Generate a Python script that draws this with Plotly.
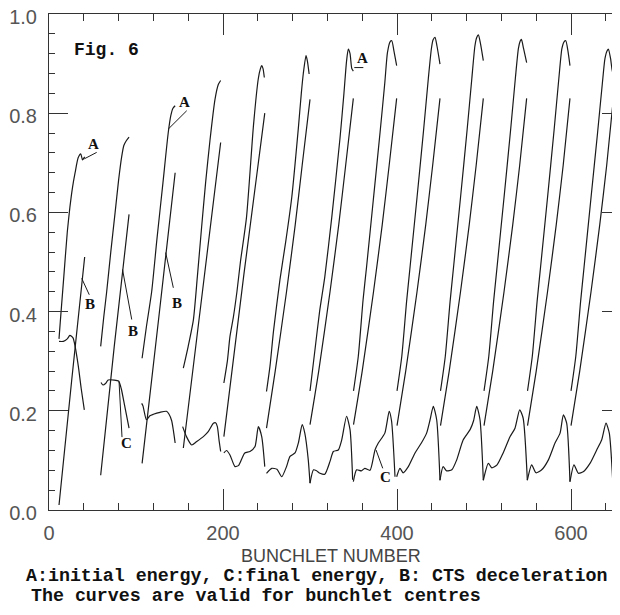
import plotly.graph_objects as go

# ---- data (bunchlet number, energy) ----
A_x = [
    [11.5, 13, 17, 21, 24, 27, 30, 33.5, 36.5, 38.5, 41],
    [59.4, 63, 66.3, 71, 76, 80, 83.5, 86, 89, 92],
    [107, 112, 118, 124, 131, 137, 140, 142.5, 145],
    [154.4, 160, 166, 170.5, 175.5, 180, 185, 190.8, 194.6, 197.3],
    [201, 205, 208, 212, 216, 220, 227, 235, 240.6, 243, 244.5, 246, 247.5],
    [250, 254, 258, 265.5, 272, 279, 286.6, 290, 292.3, 295.4, 297, 299],
    [300, 305.5, 311, 317, 325, 334.5, 339, 342, 344, 346, 348, 349.8],
    [350, 355.5, 361, 365, 372.8, 380.5, 386, 389, 392, 394, 396.5, 399.6],
    [400, 405.5, 411, 415, 423, 430.5, 436, 439.5, 441.5, 443.7, 446, 449.4],
    [450, 455.5, 461, 465, 473, 480.5, 486, 489.5, 491.5, 493.5, 496, 499.2],
    [500, 505.5, 511, 515, 523, 530.5, 536, 539.5, 541.5, 543, 545.5, 549],
    [550, 555.5, 561, 565, 573, 580.5, 586, 589.5, 592, 594, 596.5, 598.8],
    [600, 605.5, 611, 615, 623, 630.5, 636, 639, 641.5, 643, 645.5, 648.6, 656.3],
]
A_y = [
    [0.345, 0.38, 0.47, 0.56, 0.61, 0.65, 0.68, 0.71, 0.718, 0.706, 0.712],
    [0.33, 0.39, 0.44, 0.52, 0.60, 0.665, 0.712, 0.735, 0.745, 0.752],
    [0.306, 0.37, 0.44, 0.545, 0.66, 0.76, 0.795, 0.81, 0.815],
    [0.286, 0.33, 0.384, 0.47, 0.572, 0.66, 0.745, 0.828, 0.858, 0.866],
    [0.256, 0.30, 0.35, 0.39, 0.44, 0.50, 0.59, 0.775, 0.87, 0.89, 0.896, 0.89, 0.872],
    [0.239, 0.29, 0.36, 0.465, 0.54, 0.63, 0.77, 0.84, 0.88, 0.916, 0.905, 0.879],
    [0.24, 0.32, 0.40, 0.47, 0.59, 0.75, 0.84, 0.905, 0.929, 0.92, 0.89, 0.885],
    [0.24, 0.31, 0.424, 0.49, 0.626, 0.761, 0.862, 0.922, 0.944, 0.946, 0.925, 0.896],
    [0.24, 0.31, 0.42, 0.49, 0.63, 0.765, 0.87, 0.93, 0.948, 0.953, 0.935, 0.899],
    [0.24, 0.31, 0.42, 0.49, 0.63, 0.765, 0.87, 0.935, 0.952, 0.958, 0.94, 0.906],
    [0.24, 0.31, 0.42, 0.49, 0.63, 0.765, 0.87, 0.93, 0.945, 0.949, 0.93, 0.902],
    [0.24, 0.31, 0.42, 0.49, 0.63, 0.765, 0.87, 0.93, 0.944, 0.946, 0.925, 0.896],
    [0.24, 0.31, 0.42, 0.49, 0.63, 0.76, 0.86, 0.91, 0.926, 0.929, 0.91, 0.879, 0.879],
]

B_x = [
    [11.5, 26, 41],
    [59.4, 75, 92],
    [107, 126, 145],
    [154.4, 176, 197.3],
    [201, 224, 248],
    [250, 260, 273, 283, 291, 300],
    [300, 310, 323, 333, 341, 349.8],
    [350, 360, 373, 383, 391, 399.6],
    [400, 410, 423, 433, 441, 449.4],
    [450, 460, 473, 483, 491, 499.2],
    [500, 510, 523, 533, 541, 549],
    [550, 560, 573, 583, 591, 598.8],
    [600, 610, 623, 633, 641, 648.6],
]
B_y = [
    [0.01, 0.26, 0.51],
    [0.07, 0.33, 0.596],
    [0.094, 0.385, 0.68],
    [0.125, 0.435, 0.741],
    [0.148, 0.475, 0.80],
    [0.165, 0.28, 0.44, 0.575, 0.695, 0.828],
    [0.172, 0.28, 0.44, 0.575, 0.695, 0.83],
    [0.172, 0.28, 0.44, 0.575, 0.695, 0.83],
    [0.170, 0.28, 0.44, 0.575, 0.695, 0.83],
    [0.170, 0.28, 0.44, 0.575, 0.695, 0.83],
    [0.170, 0.28, 0.44, 0.575, 0.695, 0.83],
    [0.170, 0.28, 0.44, 0.575, 0.695, 0.83],
    [0.170, 0.28, 0.44, 0.575, 0.695, 0.828],
]

C_x = [
    [11.5, 16.5, 21, 24, 27.6, 30, 33.7, 37, 40.6],
    [59.8, 62, 65, 68, 75, 80, 83, 87, 92],
    [106.5, 108, 112, 116, 120, 127.6, 135, 138, 141, 143, 145],
    [153.6, 158, 164, 169.8, 177.4, 183, 188.9, 191.5, 193.5, 195.5, 197.3],
    [201, 204, 208, 213.8, 218, 222, 225, 231, 236.8, 240.6, 244.5, 248],
    [250, 256, 262, 267.5, 273, 277, 282.8, 286.6, 291, 294, 298, 300],
    [300, 304, 307.5, 311.5, 317, 323, 326.8, 332.5, 336.4, 342, 346, 349],
    [349.8, 353.6, 359, 363, 369, 374.7, 378.5, 386, 391, 393.7, 397.7],
    [399.6, 403.4, 407, 413, 420.7, 428, 434, 438, 441.7, 445.6, 449.4],
    [449.4, 453, 457, 463, 468.6, 476, 484, 488, 491.6, 495.4, 499.2],
    [499.2, 505, 509, 515, 522, 530, 535.6, 541, 545, 549.8],
    [549.8, 554.8, 559.8, 566.3, 574, 581.6, 587.4, 591.2, 595, 598.8],
    [598.8, 603.4, 608.4, 614, 621.8, 629.5, 635.2, 640.2, 644, 648],
]
C_y = [
    [0.34, 0.34, 0.345, 0.352, 0.347, 0.33, 0.29, 0.245, 0.202],
    [0.257, 0.252, 0.255, 0.262, 0.262, 0.26, 0.245, 0.21, 0.165],
    [0.215, 0.21, 0.182, 0.19, 0.193, 0.197, 0.199, 0.193, 0.18, 0.16, 0.135],
    [0.168, 0.148, 0.131, 0.138, 0.148, 0.158, 0.175, 0.176, 0.168, 0.14, 0.118],
    [0.115, 0.12, 0.111, 0.0875, 0.09, 0.105, 0.115, 0.118, 0.128, 0.168, 0.148, 0.0875],
    [0.074, 0.084, 0.082, 0.067, 0.0875, 0.108, 0.115, 0.135, 0.172, 0.155, 0.101, 0.054],
    [0.054, 0.081, 0.079, 0.074, 0.072, 0.098, 0.118, 0.121, 0.141, 0.189, 0.162, 0.061],
    [0.057, 0.081, 0.079, 0.084, 0.08, 0.121, 0.135, 0.155, 0.199, 0.18, 0.067],
    [0.067, 0.084, 0.075, 0.0875, 0.115, 0.135, 0.155, 0.182, 0.209, 0.182, 0.06],
    [0.06, 0.0875, 0.079, 0.081, 0.101, 0.141, 0.162, 0.18, 0.209, 0.182, 0.06],
    [0.06, 0.094, 0.085, 0.091, 0.115, 0.148, 0.165, 0.202, 0.185, 0.06],
    [0.06, 0.091, 0.075, 0.081, 0.101, 0.135, 0.155, 0.192, 0.175, 0.057],
    [0.057, 0.091, 0.074, 0.077, 0.094, 0.121, 0.141, 0.175, 0.155, 0.057],
]

# curve labels: text, label position, leader line (from, to)
labels = ["A", "A", "A", "B", "B", "B", "C", "C"]
label_x = [50.9, 156.3, 359.8, 47.1, 96.0, 146.6, 88.5, 386.2]
label_y = [0.737, 0.822, 0.911, 0.416, 0.36, 0.418, 0.135, 0.067]
leader_x0 = [40.6, 137.1, 350.9, 37.6, 84.5, 134.1, 80.5, 375.9]
leader_y0 = [0.708, 0.768, 0.892, 0.467, 0.485, 0.519, 0.259, 0.121]
leader_x1 = [54.8, 158.3, 361.3, 46.3, 95.1, 142.9, 83.9, 383.6]
leader_y1 = [0.721, 0.805, 0.892, 0.434, 0.384, 0.448, 0.147, 0.084]

LINE = "#1a1a1a"
OFF = 8  # the page body adds an 8px margin; shift the figure so the plot lands where the reference has it

W, H = 620 - OFF, 615 - OFF
L, T = 49 - OFF, 14 - OFF
PW, PH = 571, 496
B = H - T - PH


def px_x(px):
    return (px - OFF - L) / PW


def px_y(py):
    return (T + PH - (py - OFF)) / PH


def joined(xs, ys):
    X, Y = [], []
    for sx, sy in zip(xs, ys):
        X += list(sx) + [None]
        Y += list(sy) + [None]
    return X, Y


fig = go.Figure()
for name, xs, ys in [("A", A_x, A_y), ("B", B_x, B_y), ("C", C_x, C_y)]:
    X, Y = joined(xs, ys)
    fig.add_trace(go.Scatter(x=X, y=Y, mode="lines", name=name, connectgaps=False,
                             line=dict(color=LINE, width=1.2, shape="spline", smoothing=0.6),
                             showlegend=False, hoverinfo="skip"))
# helper trace for the right-hand tick axis
fig.add_trace(go.Scatter(x=[None], y=[None], yaxis="y2", showlegend=False, hoverinfo="skip"))

for i in range(len(labels)):
    fig.add_shape(type="line", x0=leader_x0[i], y0=leader_y0[i], x1=leader_x1[i], y1=leader_y1[i],
                  line=dict(color=LINE, width=1))
    fig.add_annotation(x=label_x[i], y=label_y[i], text=labels[i], showarrow=False,
                       font=dict(family="Liberation Serif", size=15, color="#111", weight="bold"))

tickfont = dict(family="Liberation Sans", size=20, color="#555")
fig.update_layout(
    width=W, height=H,
    margin=dict(l=L, r=0, t=T, b=B, autoexpand=False),
    paper_bgcolor="white", plot_bgcolor="white",
    xaxis=dict(range=[0, 656.3], tickmode="linear", tick0=0, dtick=200, automargin=False,
               ticks="inside", ticklen=21, tickwidth=1, tickcolor="#333",
               minor=dict(dtick=40, tick0=0, ticks="inside", ticklen=7, tickcolor="#333"),
               showline=True, linecolor="#333", linewidth=1, mirror="ticks",
               showgrid=False, zeroline=False, tickfont=tickfont, ticklabelstandoff=5,
               ticklabeloverflow="allow"),
    yaxis=dict(range=[0, 1.0], tickmode="linear", tick0=0, dtick=0.2, tickformat=".1f", automargin=False,
               ticks="inside", ticklen=19, tickwidth=1, tickcolor="#333",
               minor=dict(dtick=0.04, tick0=0, ticks="inside", ticklen=6, tickcolor="#333"),
               showline=True, linecolor="#333", linewidth=1, mirror=False,
               showgrid=False, zeroline=False, tickfont=tickfont, ticklabelstandoff=7,
               ticklabelshift=3, ticklabeloverflow="allow"),
    yaxis2=dict(range=[0, 1.0], overlaying="y", side="right", tickmode="linear", tick0=0, dtick=0.2,
                automargin=False,
                ticks="inside", ticklen=18, tickwidth=1, tickcolor="#333",
                minor=dict(dtick=0.04, tick0=0, ticks="inside", ticklen=5, tickcolor="#333"),
                showline=False, showgrid=False, zeroline=False, showticklabels=False),
)

fig.add_annotation(xref="paper", yref="paper", x=px_x(331), y=px_y(556),
                   text="BUNCHLET NUMBER", showarrow=False, xanchor="center", yanchor="middle",
                   font=dict(family="Liberation Sans", size=18, color="#444"))
fig.add_annotation(xref="paper", yref="paper", x=px_x(72), y=px_y(50),
                   text="Fig. 6", showarrow=False, xanchor="left", yanchor="middle",
                   font=dict(family="Liberation Mono", size=18, color="#111", weight="bold"))
fig.add_annotation(xref="paper", yref="paper", x=px_x(24), y=px_y(576),
                   text="A:initial energy, C:final energy, B: CTS deceleration", showarrow=False,
                   xanchor="left", yanchor="middle",
                   font=dict(family="Liberation Mono", size=18.3, color="#111", weight="bold"))
fig.add_annotation(xref="paper", yref="paper", x=px_x(29), y=px_y(596),
                   text="The curves are valid for bunchlet centres", showarrow=False,
                   xanchor="left", yanchor="middle",
                   font=dict(family="Liberation Mono", size=18.3, color="#111", weight="bold"))

fig.write_html("out.html")
